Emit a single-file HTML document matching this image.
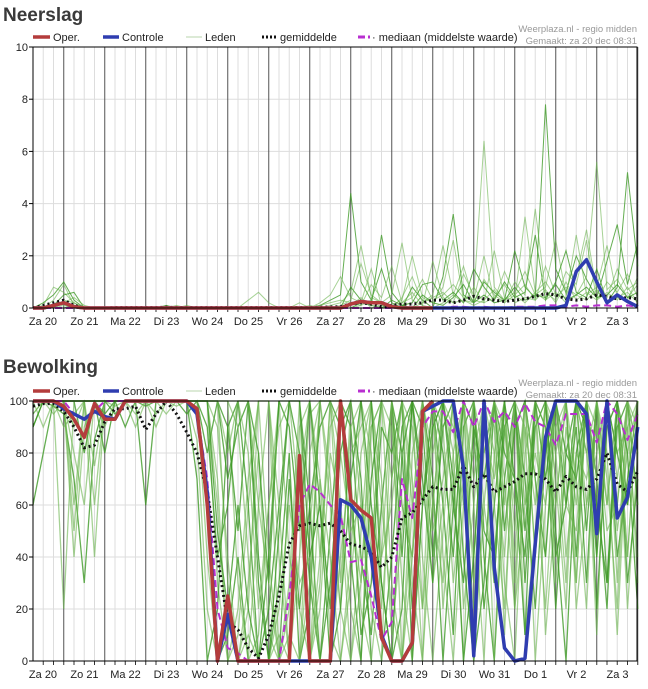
<!DOCTYPE html>
<html><head><meta charset="utf-8">
<style>
html,body{margin:0;padding:0;background:#fff;}
svg{display:block;font-family:"Liberation Sans",sans-serif;}
</style></head>
<body>
<svg id="chart" width="648" height="689" viewBox="0 0 648 689" xmlns="http://www.w3.org/2000/svg"></svg>
<script>
// ---- shared categories ----
const dayLabels = ["Za 20","Zo 21","Ma 22","Di 23","Wo 24","Do 25","Vr 26","Za 27","Zo 28","Ma 29","Di 30","Wo 31","Do 1","Vr 2","Za 3"];
const rainTicks = [0,2,4,6,8,10];
const cloudTicks = [0,20,40,60,80,100];

// ---- Neerslag data (6-hourly) ----
const rainOper = [0,0,0.1,0.2,0.05,0,0,0,0,0, 0,0,0,0,0,0,0,0,0,0, 0,0,0,0,0,0,0,0,0,0, 0,0.15,0.25,0.2,0.2,0.05,0,0,0,0];
const rainControl = [0,0,0.1,0.2,0.05,0,0,0,0,0, 0,0,0,0,0,0,0,0,0,0, 0,0,0,0,0,0,0,0,0,0, 0,0.15,0.25,0.2,0.2,0.05,0,0,0,0, 0,0,0,0,0,0,0,0,0,0, 0,0,0.1,1.4,1.85,1.0,0.2,0.5,0.25,0.05];
const rainMean = [0,0.1,0.2,0.3,0.1,0,0,0,0.02,0.02, 0.02,0.02,0.02,0.03,0.02,0.02,0.02,0.02,0.02,0.02, 0.02,0.02,0.02,0.02,0.02,0.02,0.02,0.02,0.03,0.04, 0.05,0.15,0.2,0.15,0.05,0.1,0.15,0.15,0.2,0.3, 0.3,0.2,0.3,0.45,0.35,0.3,0.25,0.3,0.35,0.45, 0.55,0.5,0.35,0.3,0.35,0.5,0.45,0.35,0.4,0.35];
const rainMedian = [0,0,0,0,0,0,0,0,0,0, 0,0,0,0,0,0,0,0,0,0, 0,0,0,0,0,0,0,0,0,0, 0,0,0,0,0,0,0,0,0,0, 0,0.05,0.05,0,0.05,0,0,0.05,0.05,0.05, 0.1,0.1,0.05,0.1,0.05,0.1,0.1,0.05,0.1,0.05];
const rainMembers = [
 [0,0.2,0.5,1.0,0.3,0,0,0,0,0, 0,0,0,0.1,0,0,0,0,0,0, 0,0,0,0,0,0,0,0,0.1,0.3, 0.5,4.4,1.0,0.3,1.5,0.2,0,0.8,0.3,0, 1.2,3.6,0.5,0.2,1.0,0.6,0.3,2.2,0.8,0.4, 7.8,1.5,0.6,2.0,1.1,0.4,1.8,3.2,0.9,2.5],
 [0,0.1,0.8,0.6,0.2,0,0,0,0,0, 0,0,0,0,0.1,0,0,0,0,0, 0,0,0,0,0,0,0,0,0,0.1, 0.2,0.6,2.4,0.4,0.2,0.5,2.5,0.3,0.1,1.8, 0.4,0.2,1.3,0.5,6.4,0.8,0.3,0.6,1.4,0.5, 0.8,2.6,0.5,1.2,3.0,0.6,0.4,1.5,0.7,1.0],
 [0,0,0.3,0.9,0.1,0,0,0,0,0, 0,0,0,0,0,0,0,0,0,0, 0,0.3,0.6,0.2,0,0,0,0,0.2,0.5, 1.2,0.4,0.2,1.5,0.1,0,0.4,1.2,0.2,0.5, 2.4,0.5,1.6,0.3,0.2,2.2,0.4,0.3,3.5,0.6, 1.0,0.4,0.8,0.5,1.2,5.6,0.7,1.1,0.4,0.9],
 [0,0,0.1,0.5,0.6,0,0,0,0,0, 0,0,0,0,0,0,0,0,0,0, 0,0,0,0,0,0,0,0,0,0, 0,0.8,0.3,0.1,2.8,0.6,0.1,0.2,0.9,1.0, 0.3,0.6,0.2,1.5,0.8,0.3,1.0,0.4,0.6,2.8, 0.3,1.0,2.2,0.6,0.4,1.5,0.2,0.8,5.2,1.6],
 [0,0,0,0.3,0.2,0,0,0,0,0, 0,0,0,0,0,0,0,0,0,0, 0,0,0,0,0,0,0.2,0,0,0, 0.1,0.3,1.7,0.5,0.2,0.1,0.3,2.0,0.4,0.2, 0.8,2.6,0.3,0.2,1.1,0.5,0.2,1.0,0.5,3.8, 0.6,0.3,1.4,0.9,2.6,0.3,1.0,0.6,1.3,0.4],
 [0,0,0,0.2,0.4,0.1,0,0,0,0, 0,0,0,0,0,0.1,0,0,0,0, 0,0,0,0,0,0,0,0,0.1,0.2, 0.3,0.2,0.1,0.9,0.4,1.6,0.2,0.4,1.1,0.3, 0.5,0.9,0.4,0.3,2.0,0.3,1.4,0.5,0.9,0.3, 1.6,0.5,0.4,2.8,0.5,0.8,2.4,0.4,0.3,1.2],
 [0,0,0,0,0.1,0,0,0,0,0, 0,0,0,0,0,0,0,0,0,0, 0,0,0,0,0,0,0,0,0,0, 0,0,0.2,0.1,0,0.3,0.1,0,0.5,0.2, 0.1,0.4,0.9,0.2,0.5,0.2,0.3,0.8,0.3,0.5, 0.4,0.9,0.3,0.5,0.8,0.4,0.5,0.9,0.4,0.6],
 [0,0,0.1,0.2,0,0,0,0,0,0, 0,0,0,0,0,0,0,0,0,0, 0,0,0,0,0,0,0,0,0,0, 0,0.1,0.4,0,0.1,0,0.2,0.6,0.1,0, 0.2,0.5,0.2,0.8,0.2,0.4,0.9,0.2,0.4,0.3, 0.7,0.2,1.0,0.3,0.6,0.3,0.6,0.3,0.8,0.2],
 [0,0,0,0.1,0,0,0,0,0,0, 0,0,0,0,0,0,0,0,0,0, 0,0,0,0,0,0,0,0.1,0,0, 0,0,0.1,0.3,0,0.1,0,0,0.2,0.4, 0.6,0.2,0.3,0.1,0.3,0.7,0.2,0.5,0.2,0.6, 0.3,0.6,0.2,0.5,0.3,0.7,0.2,0.4,0.6,0.2]
];

// ---- Bewolking data (6-hourly) ----
const cloudOper = [100,100,100,98,93,86,99,93,93,100, 100,100,100,100,100,100,97,60,0,25, 0,0,0,0,0,0,79,0,0,0, 100,62,58,55,9,0,0,7,96,100];
const cloudControl = [100,100,100,97,95,93,96,94,93,100, 100,100,100,100,100,100,95,65,0,18, 0,0,0,0,0,0,0,0,0,0, 62,60,55,40,10,0,0,7,96,98, 100,100,74,2,100,36,5,0,1,45, 86,100,100,100,95,49,100,55,63,90];
const cloudMean = [98,99,99,96,90,82,83,92,97,97, 98,89,95,100,95,88,80,65,40,15, 12,5,1,10,25,45,52,53,52,53, 50,45,44,42,36,40,55,57,62,67, 66,66,75,67,72,65,67,69,72,72, 70,65,71,67,66,70,80,68,65,73];
const cloudMedian = [100,100,100,100,95,93,96,100,100,100, 100,100,100,100,100,100,95,70,20,5, 3,0,0,0,0,25,60,68,65,60, 56,38,39,25,8,15,70,55,90,96, 96,88,100,90,100,92,96,90,99,92, 90,83,95,95,95,84,100,95,85,95];
const cloudMembers = [
 [100,100,98,95,70,30,85,100,95,100, 100,98,100,100,100,100,95,60,0,10, 40,0,0,20,60,100,80,30,0,50, 100,90,40,10,60,100,80,20,95,100, 60,10,90,100,40,0,70,100,30,90, 100,50,0,80,100,70,20,100,60,95],
 [95,100,100,100,40,90,100,100,100,100, 95,100,100,100,98,100,100,100,90,40, 0,30,80,10,0,0,40,95,100,60, 20,0,50,100,100,30,0,60,100,80, 100,100,20,60,100,90,30,0,80,100, 40,90,100,20,60,100,80,10,90,100],
 [100,100,100,90,95,100,60,100,100,100, 100,100,90,100,100,100,85,20,0,0, 10,60,100,40,0,20,90,100,70,10, 0,40,100,80,20,70,100,90,40,0, 50,100,100,30,80,100,60,100,10,50, 100,80,30,100,90,10,100,60,100,30],
 [90,100,100,100,100,80,100,95,100,100, 100,100,100,100,100,95,100,80,100,70, 90,100,40,0,30,80,0,20,100,100, 90,100,70,0,0,40,90,100,100,70, 0,60,100,90,20,60,100,100,70,20, 80,100,60,90,30,100,100,40,70,100],
 [100,100,100,100,60,100,100,90,100,100, 100,100,100,100,100,100,100,100,30,0, 0,0,10,60,100,40,20,0,40,90, 100,60,30,100,70,10,50,100,20,60, 100,80,0,100,60,30,100,50,100,100, 10,60,100,100,80,40,90,100,20,80],
 [100,100,95,100,100,100,75,100,98,100, 100,100,100,95,100,100,100,100,100,100, 30,0,0,0,10,0,70,100,40,100, 30,90,100,40,100,90,30,0,60,100, 90,30,70,100,100,0,90,60,100,40, 100,100,70,30,100,90,60,100,40,100],
 [60,80,100,100,100,100,100,100,100,90, 100,100,100,100,100,100,70,0,20,90, 100,60,0,40,100,100,100,60,0,30, 80,100,100,60,30,0,20,100,90,40, 90,100,40,0,30,100,80,70,40,100, 90,20,80,100,50,100,30,90,100,60],
 [100,90,100,100,90,100,100,100,100,100, 90,100,100,100,100,100,100,100,60,0, 0,20,100,100,0,30,100,0,20,80, 60,20,0,90,100,100,60,40,100,100, 20,70,100,60,0,80,100,30,90,60, 100,30,90,60,100,60,100,80,90,40],
 [100,100,100,20,100,100,100,100,100,100, 100,100,100,100,100,100,100,100,100,100, 90,40,0,0,0,10,0,0,70,40, 0,30,80,100,40,60,100,70,0,90, 100,90,60,80,100,100,10,100,60,80, 60,100,40,80,70,90,50,60,100,80],
 [100,100,100,100,100,100,100,80,100,100, 100,60,100,100,100,100,100,90,40,60, 100,100,30,0,0,70,20,60,90,100, 100,70,10,30,90,80,100,0,60,100, 80,40,100,100,50,40,90,100,50,100, 70,100,100,40,100,20,90,100,30,70],
 [95,100,100,100,100,100,100,100,100,100, 100,100,95,100,100,100,100,100,100,30, 0,0,60,100,40,0,0,30,100,70, 20,100,60,20,0,100,60,40,80,30, 60,100,80,40,90,70,100,20,100,100, 100,70,20,100,80,100,70,20,100,90],
 [100,100,100,100,50,100,100,100,100,100, 100,100,100,100,100,100,100,100,70,0, 0,10,0,0,20,60,30,40,0,0, 40,80,90,100,60,20,0,80,100,60, 30,80,100,70,100,60,20,90,100,40, 100,90,60,50,100,70,100,50,80,100],
 [100,100,100,100,100,100,100,100,100,100, 100,100,100,100,100,100,100,100,100,90, 50,100,80,30,100,90,50,100,60,20, 100,40,0,70,100,100,40,100,60,90, 100,60,30,90,70,100,50,90,100,70, 40,100,80,70,100,40,100,80,60,90],
 [100,100,100,100,100,100,100,100,100,100, 100,100,100,100,100,100,100,40,0,0, 20,70,100,100,60,0,0,80,100,100, 60,0,30,90,100,70,100,30,0,60, 100,100,70,20,100,80,40,100,90,0, 60,100,100,70,20,100,60,100,40,100],
 [100,100,100,100,80,60,100,100,100,100, 100,100,100,100,100,100,100,100,100,80, 100,80,20,60,90,100,60,0,30,100, 100,60,20,0,40,100,100,60,20,100, 40,0,60,100,80,100,90,40,100,70, 20,80,100,100,60,80,100,30,100,60],
 [90,100,100,100,100,100,100,100,100,100, 100,100,100,100,100,100,100,100,50,20, 60,20,0,0,50,100,100,40,60,0, 20,70,100,100,30,0,80,100,70,30, 100,70,0,40,100,30,100,70,10,100, 100,40,60,100,90,60,30,100,80,20],
 [100,100,100,100,100,100,40,100,100,100, 100,100,100,100,100,100,100,100,100,100, 100,100,60,30,0,0,0,50,100,100, 80,50,60,40,100,100,0,40,100,50, 70,100,100,0,60,100,70,20,60,100, 90,60,100,30,100,100,100,70,100,80]
];

const NS = "http://www.w3.org/2000/svg";
const svg = document.getElementById('chart');
function mk(tag, attrs, parent, text){
  const e = document.createElementNS(NS, tag);
  for (const k in attrs) e.setAttribute(k, attrs[k]);
  if (text !== undefined) e.textContent = text;
  (parent || svg).appendChild(e);
  return e;
}
const X0 = 33, X1 = 637, STEP = 10.25;
function xScale(i){ return X0 + i * STEP; }
function dayLabelX(k){ return k === 0 ? 43 : 64 + 41 * (k - 1) + 20.5; }

function drawPanel(cfg){
  const g = mk('g', {});
  
  
  const yS = v => cfg.yBottom - (v - cfg.min) / (cfg.max - cfg.min) * (cfg.yBottom - cfg.yTop);
  const t = mk('text', {x: 3, y: cfg.titleY, 'font-size': 19, 'font-weight': 'bold', fill: '#3a3a3a'}, g, cfg.title);
  
  
  const grid = mk('g', {}, g);
  
  
  cfg.ticks.forEach(v => {
    mk('line', {x1: X0, x2: X1, y1: yS(v), y2: yS(v), stroke: '#ddd', 'stroke-width': 1}, grid);
  });
  for (let i = 1; i < 60; i++){
    const x = xScale(i);
    const dark = ((i - 3) % 4 === 0);
    mk('line', {x1: x, x2: x, y1: cfg.yTop, y2: cfg.yBottom, stroke: dark ? '#555' : '#ddd', 'stroke-width': 1}, grid);
    mk('line', {x1: x, x2: x, y1: cfg.yBottom, y2: cfg.yBottom + 4, stroke: '#333', 'stroke-width': 1}, grid);
  }
  const mem = mk('g', {}, g);
  
  
  cfg.members.forEach((arr, k) => {
    const p = mk('polyline', {points: arr.map((v, i) => xScale(i) + ',' + yS(v)).join(' '), fill: 'none',
      stroke: k % 3 === 0 ? '#3f9a27' : '#6ab44e', 'stroke-opacity': k % 3 === 0 ? 0.8 : 0.6, 'stroke-width': cfg.memberWidth}, mem);
    
    
  });
  function line(arr, stroke, w, dash, nm){
    const p = mk('polyline', {points: arr.map((v, i) => xScale(i) + ',' + yS(v)).join(' '), fill: 'none', stroke: stroke, 'stroke-width': w, 'stroke-linejoin': 'round'}, g);
    if (dash) p.setAttribute('stroke-dasharray', dash);
    
    
  }
  line(cfg.median, '#b82fd0', 2, '7,4', cfg.name + '-median-line');
  line(cfg.mean, '#111', 3, '2,3', cfg.name + '-mean-line');
  line(cfg.control, '#2f3db0', 3.5, null, cfg.name + '-control-line');
  line(cfg.oper, '#b43c3c', 3.5, null, cfg.name + '-oper-line');
  mk('rect', {x: X0, y: cfg.yTop, width: X1 - X0, height: cfg.yBottom - cfg.yTop, fill: 'none', stroke: '#000', 'stroke-width': 1}, g);
  cfg.ticks.forEach(v => {
    mk('line', {x1: X0 - 4, x2: X0, y1: yS(v), y2: yS(v), stroke: '#000'}, g);
    const tl = mk('text', {x: X0 - 5, y: yS(v) + 4, 'font-size': 11, 'text-anchor': 'end', fill: '#222'}, g, String(v));
    
    
  });
  dayLabels.forEach((d, k) => {
    const tl = mk('text', {x: dayLabelX(k), y: cfg.yBottom + 17, 'font-size': 11, 'text-anchor': 'middle', fill: '#222'}, g, d);
    
    
  });
  const ly = cfg.yTop - 6;
  const lg = mk('g', {}, g);
  
  
  mk('line', {x1: 33, x2: 50, y1: ly - 4, y2: ly - 4, stroke: '#b43c3c', 'stroke-width': 3.5}, lg);
  mk('text', {x: 53, y: ly, 'font-size': 11, fill: '#222'}, lg, 'Oper.');
  mk('line', {x1: 103, x2: 119, y1: ly - 4, y2: ly - 4, stroke: '#2f3db0', 'stroke-width': 3.5}, lg);
  mk('text', {x: 122, y: ly, 'font-size': 11, fill: '#222'}, lg, 'Controle');
  mk('line', {x1: 186, x2: 202, y1: ly - 4, y2: ly - 4, stroke: '#b9d6ae', 'stroke-width': 1}, lg);
  mk('text', {x: 205, y: ly, 'font-size': 11, fill: '#222'}, lg, 'Leden');
  mk('line', {x1: 262, x2: 277, y1: ly - 4, y2: ly - 4, stroke: '#111', 'stroke-width': 3, 'stroke-dasharray': '2,2'}, lg);
  mk('text', {x: 280, y: ly, 'font-size': 11, fill: '#222'}, lg, 'gemiddelde');
  mk('line', {x1: 358, x2: 370, y1: ly - 4, y2: ly - 4, stroke: '#b82fd0', 'stroke-width': 3, 'stroke-dasharray': '7,3'}, lg);
  mk('text', {x: 372, y: ly, 'font-size': 11, fill: '#222'}, lg, '· mediaan (middelste waarde)');
  mk('text', {x: 637, y: cfg.yTop - 15, 'font-size': 9.5, 'text-anchor': 'end', fill: '#999'}, lg, 'Weerplaza.nl - regio midden');
  mk('text', {x: 637, y: cfg.yTop - 3, 'font-size': 9.5, 'text-anchor': 'end', fill: '#999'}, lg, 'Gemaakt: za 20 dec 08:31');
}

drawPanel({name: 'neerslag', title: 'Neerslag', titleY: 21, yTop: 47, yBottom: 308, min: 0, max: 10, ticks: rainTicks, memberWidth: 1,
  members: rainMembers, oper: rainOper, control: rainControl, mean: rainMean, median: rainMedian});
drawPanel({name: 'bewolking', title: 'Bewolking', titleY: 373, yTop: 401, yBottom: 661, min: 0, max: 100, ticks: cloudTicks, memberWidth: 1.3,
  members: cloudMembers, oper: cloudOper, control: cloudControl, mean: cloudMean, median: cloudMedian});
</script>
</body></html>
